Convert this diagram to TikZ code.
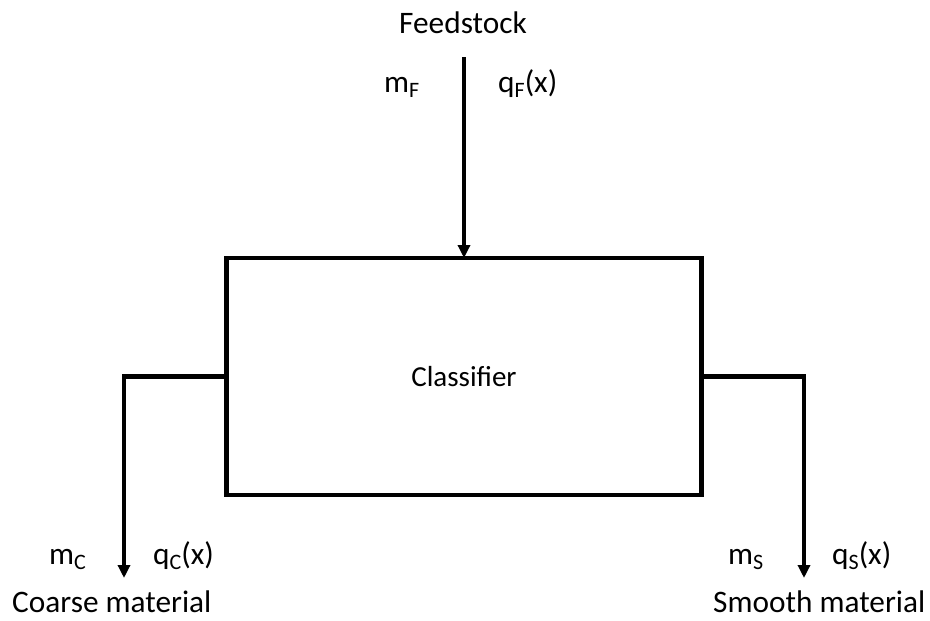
\documentclass[tikz,border=0pt]{standalone}
\usepackage{fontspec}
\setmainfont{Carlito}
\usetikzlibrary{arrows.meta}
% lowered, smaller index letter
\newcommand\idx[1]{\raisebox{-5.5pt}{\fontsize{22}{22}\selectfont #1}}
\begin{document}
\begin{tikzpicture}[x=1pt,y=-1pt,
  lbl/.style={inner sep=0pt, anchor=base west, font=\fontsize{31.3}{36}\selectfont},
  flow/.style={line width=4.5pt, -{Triangle[width=12pt,length=13pt]}},
  unit/.style={draw, line width=4.5pt, outer sep=0pt, inner sep=0pt,
    minimum width=475pt, minimum height=237pt, font=\fontsize{29}{34}\selectfont}]
  \useasboundingbox (0,0) rectangle (930,621);

  % classifier block
  \node[unit] (box) at (464,376.5) {Classifier};

  % feedstock stream
  \node[lbl, anchor=base] (feed) at (463,33) {Feedstock};
  \node[lbl] (mF) at (384,92) {m\idx{F}};
  \node[lbl] (qF) at (498,92) {q\idx{F}(x)};
  \coordinate (ftop) at (464,57);
  \draw[flow] (ftop) -- (box.north);

  % coarse stream
  \coordinate (cend) at (124,578);
  \draw[flow, line join=miter] (box.west) -| (cend);
  \node[lbl] (mC) at (49,564) {m\idx{C}};
  \node[lbl] (qC) at (153,564) {q\idx{C}(x)};
  \node[lbl] (coarse) at (12,612) {Coarse material};

  % smooth stream
  \coordinate (send) at (804,578);
  \draw[flow, line join=miter] (box.east) -| (send);
  \node[lbl] (mS) at (728,564) {m\idx{S}};
  \node[lbl] (qS) at (832,564) {q\idx{S}(x)};
  \node[lbl] (smooth) at (713,612) {Smooth material};
\end{tikzpicture}
\end{document}
